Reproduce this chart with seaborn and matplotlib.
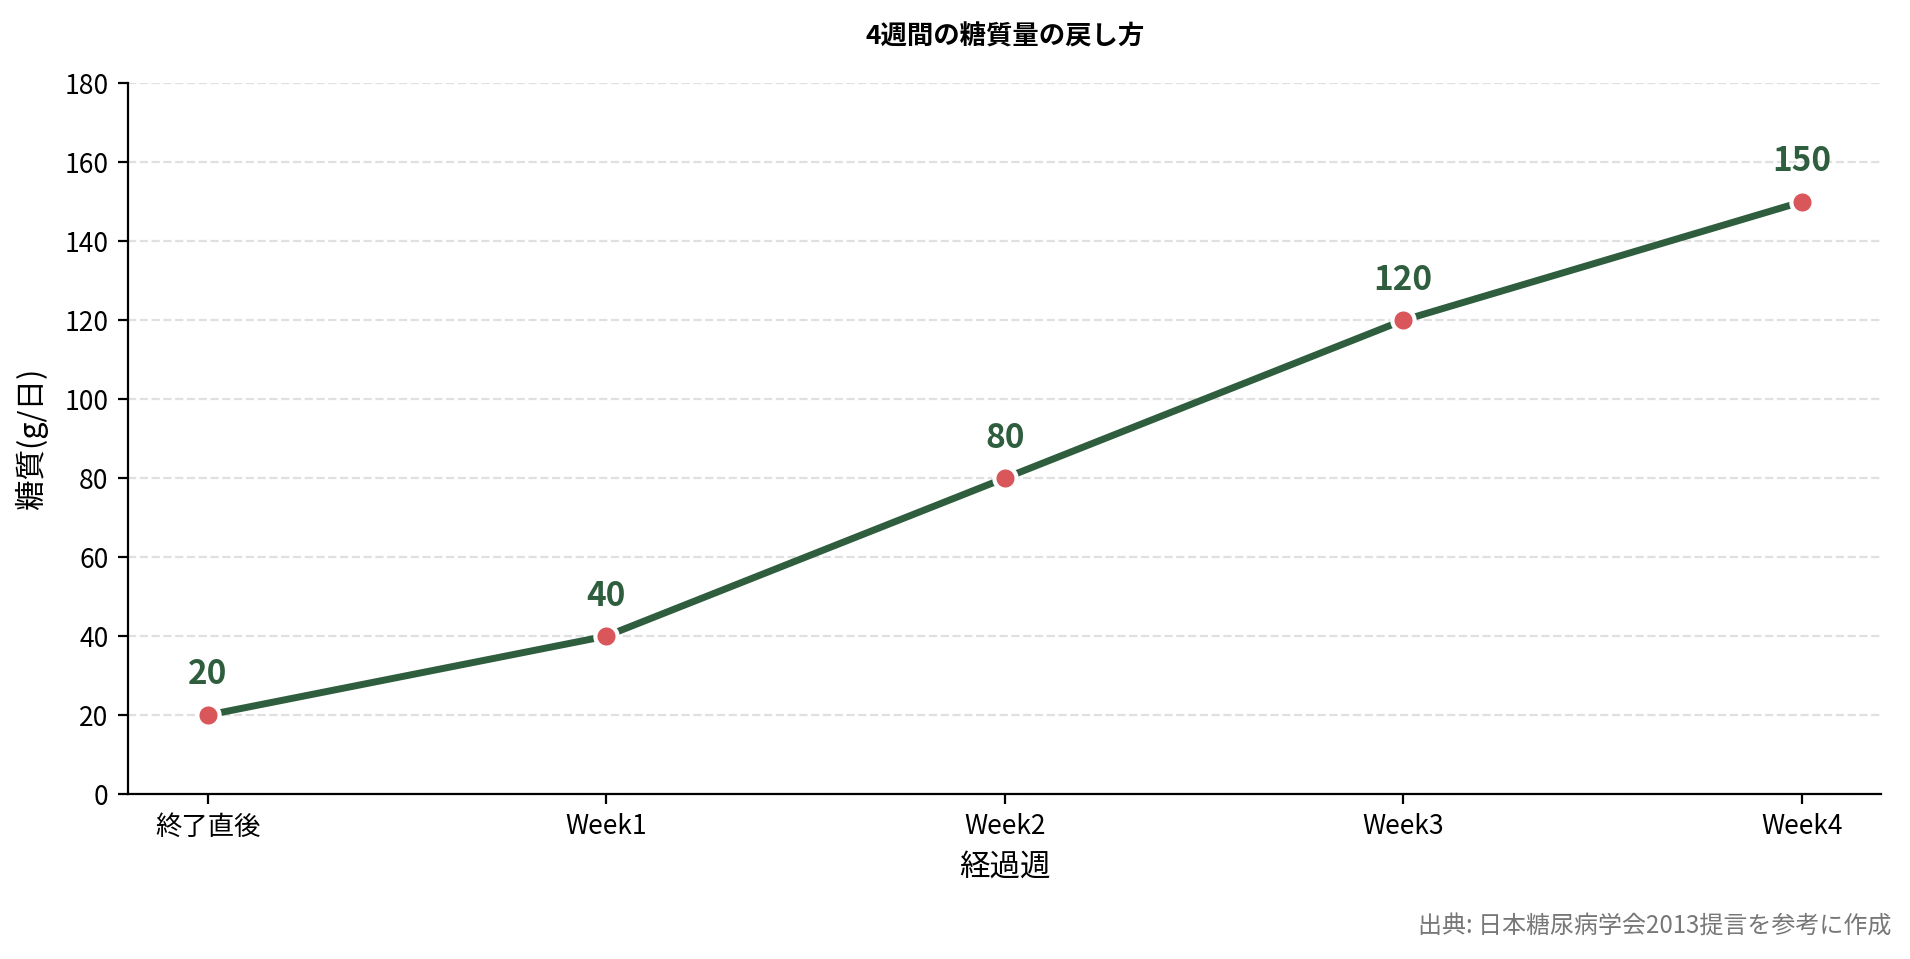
import matplotlib
matplotlib.use("Agg")
import matplotlib.pyplot as plt
import seaborn as sns
import pandas as pd

weeks = ["終了直後", "Week1", "Week2", "Week3", "Week4"]
carbs = [20, 40, 80, 120, 150]
y_ticks = [0, 20, 40, 60, 80, 100, 120, 140, 160, 180]

title = "4週間の糖質量の戻し方"
x_label = "経過週"
y_label = "糖質(g/日)"
source = "出典: 日本糖尿病学会2013提言を参考に作成"

sns.set_theme(style="ticks")
plt.rcParams["font.family"] = ["Noto Sans CJK JP", "DejaVu Sans"]
plt.rcParams["text.color"] = "black"
plt.rcParams["axes.labelcolor"] = "black"
plt.rcParams["xtick.color"] = "black"
plt.rcParams["ytick.color"] = "black"

line_color = "#2e5e3e"
marker_color = "#d9575a"

df = pd.DataFrame({"week": weeks, "carb": carbs})

fig = plt.figure(figsize=(9.55, 4.795), dpi=200)
ax = fig.add_axes([0.067, 0.172, 0.918, 0.741])

sns.lineplot(data=df, x="week", y="carb", ax=ax, color=line_color,
             linewidth=2.5, marker="o", markersize=8,
             markerfacecolor=marker_color, markeredgecolor="white",
             markeredgewidth=1.5, sort=False)

for i, v in enumerate(carbs):
    ax.annotate(str(v), (i, v), xytext=(0, 8.5), textcoords="offset points",
                ha="center", va="bottom", fontsize=12, fontweight="bold",
                color=line_color)

ax.set_xlim(-0.2, 4.2)
ax.set_ylim(0, 180)
ax.set_yticks(y_ticks)
ax.set_xticks(range(len(weeks)))
ax.set_xticklabels(weeks)
ax.tick_params(axis="both", labelsize=9.5, length=3.5, width=0.8,
               colors="black", labelcolor="black")
ax.yaxis.grid(True, linestyle="--", color="#e0e0e0", linewidth=0.8)
ax.set_axisbelow(True)
sns.despine(ax=ax)
for s in ["left", "bottom"]:
    ax.spines[s].set_color("black")
    ax.spines[s].set_linewidth(0.8)

ax.set_xlabel(x_label, fontsize=11, labelpad=4, color="black")
ax.set_ylabel(y_label, fontsize=11, labelpad=6, color="black")
ax.set_title(title, fontsize=9.5, fontweight="bold", pad=14, color="black")
fig.text(0.99, 0.034, source, ha="right", va="center", fontsize=8.65, color="#777777")

fig.savefig("out.png", dpi=200)
